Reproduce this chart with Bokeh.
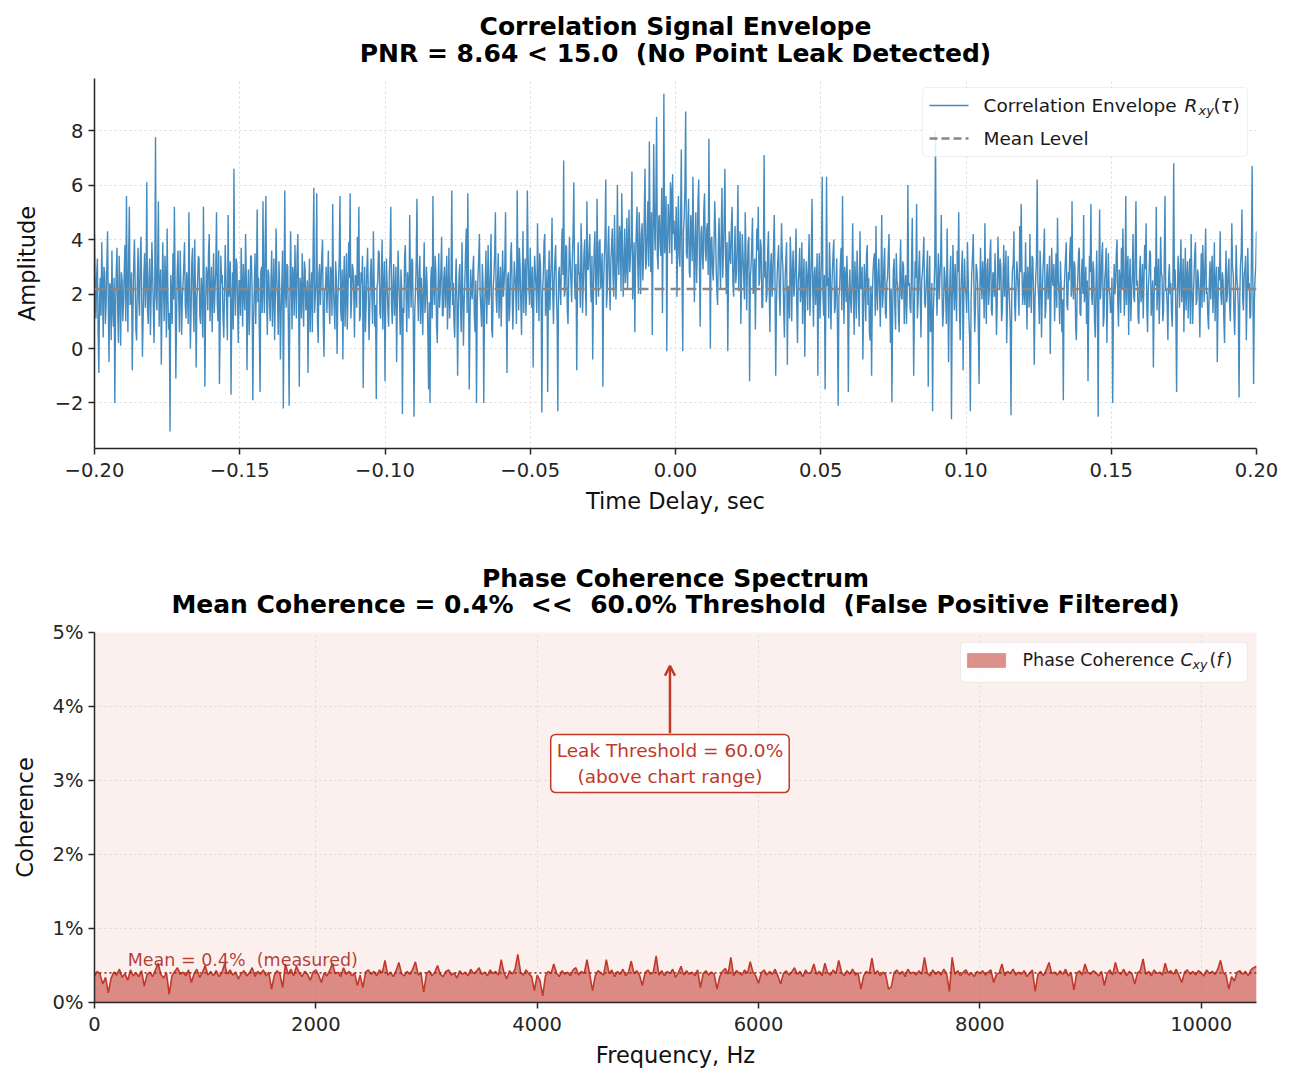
import numpy as np
from bokeh.plotting import figure
from bokeh.layouts import column
from bokeh.models import (Range1d, FixedTicker, CustomJSTickFormatter, Span, Label,
                          BoxAnnotation, Arrow, OpenHead)
from bokeh.embed import file_html
from bokeh.resources import INLINE

FONT = "DejaVu Sans"
NB = "\u00a0"  # keeps doubled spaces visible in the SVG text

# ---- correlation envelope R_xy(tau), sampled uniformly over +/-0.2 s ----
delay_limits = (-0.2, 0.2)
envelope = [
    4.2, 2.0, 1.1, 2.7, 3.3, 0.6, -0.9, 1.9, 2.6, 1.2, 3.9, 2.3, 0.4, 3.0, 2.8, 0.9, 1.6, 3.1, 4.3, 1.7, -0.5, 2.4, 2.2, 0.3, 3.6, 1.5, 0.8, 2.6, -2.0, 1.4, 2.9, 3.7, 1.3, 0.2, 3.4, 2.1, 0.1, 2.8, 2.5, 1.0,
    1.7, 2.9, 3.8, 1.0, 5.6, 2.2, 0.6, 3.4, 5.2, 1.6, 1.9, 2.8, -0.8, 1.3, 3.1, 4.0, 2.4, 0.7, 0.3, 2.5, 3.7, 1.8, 1.2, 3.3, 4.1, 2.0, -0.3, 1.1, 2.7, 3.5, 1.5, 2.3, 6.1, 1.4, 0.9, 2.6, 3.3, 0.5, 2.0, 3.9,
    2.8, 1.5, 0.2, 2.4, 7.75, 1.9, 1.4, 3.2, 5.4, 0.8, 2.3, 2.9, -0.6, 1.7, 3.9, 2.2, 1.0, 3.4, 2.6, 0.4, 4.4, 2.0, 0.7, 1.3, -3.05, 2.7, 2.1, 0.9, 3.5, 1.8, 5.2, 2.5, -1.1, 1.2, 2.9, 3.6, 1.8, 0.6, 3.6, 2.3,
    0.5, 1.9, 2.4, 3.1, 3.9, 1.6, 1.1, 2.8, 2.2, 0.9, 5.0, 2.5, 0.0, 1.4, 3.2, 3.7, 1.7, 0.6, 4.0, 2.1, -0.7, 1.8, 2.5, 3.4, 3.3, 1.2, 0.9, 2.6, 2.0, 0.4, 5.2, 2.3, -1.4, 1.5, 3.0, 2.7, 1.4, 3.5, 4.2, 1.0,
    1.9, 3.0, 0.6, 2.1, 3.5, 1.3, 2.2, 2.9, 5.0, 1.7, 1.0, 3.6, -1.3, 0.8, 3.4, 2.4, 2.7, 1.1, 0.4, 2.0, 3.8, 2.6, 1.5, 0.3, 4.9, 1.9, 2.3, 3.2, -1.7, 1.4, 2.8, 0.7, 6.6, 2.2, 1.2, 3.3, 3.1, 1.6, 0.2, 2.5,
    2.5, 1.2, 3.7, 2.3, 0.8, 3.1, 2.0, 1.4, 4.2, 2.7, -0.8, 1.9, 2.9, 0.5, 1.6, 3.4, 3.4, 2.1, -1.9, 1.0, 2.2, 3.5, 0.9, 2.4, 5.1, 1.7, 2.6, 0.6, -1.6, 2.8, 3.0, 1.3, 5.4, 2.2, 1.3, 3.8, 5.6, 1.8, 0.5, 2.9,
    2.7, 1.6, 1.0, 2.5, 3.6, 0.8, 2.1, 3.3, 0.3, 1.9, 4.4, 2.6, 1.8, 0.5, 3.2, 2.2, -0.4, 1.3, 2.4, 3.6, -2.2, 1.5, 5.8, 2.0, 1.5, 3.1, 3.0, 0.9, -2.1, 1.7, 4.3, 2.4, 0.7, 3.0, 2.6, 1.2, 3.8, 2.3, 1.1, 3.4,
    4.2, 1.8, -1.4, 2.6, 2.3, 1.1, 3.5, 2.0, 0.8, 3.2, 2.9, 1.4, 1.7, 2.5, -0.9, 1.9, 3.3, 0.6, 2.0, 2.8, 0.6, 3.6, 5.9, 1.3, 1.9, 2.4, 5.7, 1.0, 0.2, 2.7, 3.1, 1.6, 2.4, 3.4, 4.0, 0.9, -0.3, 2.1, 2.2, 3.0,
    1.3, 2.4, 3.6, 1.7, 0.9, 3.0, 2.7, 1.2, 5.3, 2.2, 1.5, 0.7, 3.2, 2.6, -0.2, 1.8, 2.5, 3.3, 5.6, 1.4, 1.0, 2.9, -0.4, 2.3, 3.4, 0.8, 2.1, 3.5, 0.7, 1.9, 3.9, 2.6, 5.7, 1.1, 1.8, 3.1, 2.9, 2.0, 0.4, 2.7,
    2.6, 1.5, 4.1, 2.3, 5.2, 1.0, 1.2, 2.8, 2.4, 3.4, -1.45, 1.7, 3.0, 0.6, 1.6, 2.9, 3.7, 2.1, 0.3, 1.4, 2.8, 3.3, 1.9, 0.9, 4.3, 2.5, 0.8, 1.6, -1.85, 2.2, 2.5, 3.6, 3.5, 1.3, 1.1, 2.7, 4.0, 0.7, 2.2, 3.2,
    -1.2, 1.9, 3.3, 2.2, 1.4, 0.8, 2.7, 3.5, 5.2, 1.6, 0.9, 2.4, 3.1, 1.2, 2.0, 3.0, -0.5, 1.7, 3.6, 2.5, 1.7, 0.5, 2.9, 2.1, -2.4, 1.5, 1.3, 3.4, 3.8, 2.0, 0.6, 2.8, 2.4, 1.1, 4.9, 2.6, 1.5, 3.3, 3.2, 0.7,
    -2.5, 1.4, 2.1, 3.2, 5.5, 2.0, 1.0, 2.7, 3.4, 0.9, 2.6, 1.8, 0.5, 2.4, 3.9, 1.3, 1.8, 3.0, 2.3, 0.6, -1.5, 1.7, -2.0, 2.5, 3.0, 1.1, 5.6, 2.2, 1.6, 3.4, 2.8, 0.8, 0.2, 2.1, 3.5, 1.5, 2.0, 2.9, 4.1, 1.2,
    1.2, 2.6, 3.0, 1.5, 2.2, 3.4, 0.7, 2.0, 3.7, 1.1, 1.9, 2.8, 5.8, 1.6, 2.4, 0.9, 0.4, 2.3, 3.3, 1.8, -1.0, 1.5, 2.7, 3.1, 1.4, 0.6, 3.9, 2.2, 0.1, 1.7, 2.5, 3.6, 4.4, 1.3, 5.7, 2.4, -1.5, 1.0, 2.9, 2.1,
    1.8, 2.9, 3.4, 1.2, 0.6, 2.5, -2.0, 1.7, 2.6, 3.3, 4.2, 2.0, 1.5, 0.8, 3.1, 2.4, -2.0, 1.4, 2.3, 3.6, 0.9, 2.1, 3.8, 1.6, 1.9, 2.8, 4.2, 0.7, 0.4, 2.2, 2.7, 3.5, 5.0, 1.9, 1.3, 2.6, 3.5, 1.1, 2.1, 3.0,
    0.8, 2.2, 3.6, 1.9, 2.4, 3.1, 5.0, 1.5, -0.9, 2.6, 2.8, 1.0, 1.6, 3.4, 3.9, 2.3, 0.7, 1.8, 3.2, 2.7, 2.1, 0.9, 5.8, 2.9, 1.4, 3.7, 3.0, 1.7, 0.5, 2.5, 4.3, 1.3, 2.6, 3.3, 1.2, 2.0, 5.8, 3.5, 2.3, 1.6,
    3.7, 2.4, 1.5, 3.0, -0.7, 1.9, 3.4, 2.8, 2.2, 1.3, 4.6, 2.6, 1.0, 3.5, 3.1, 1.7, -2.35, 2.1, 2.7, 3.9, 4.2, 1.2, 1.8, 2.9, -1.6, 2.3, 3.6, 1.4, 2.4, 3.2, 4.8, 2.0, 0.9, 2.5, 3.3, 3.8, 2.0, 1.1, -2.3, 2.7,
    3.0, 2.2, 1.6, 3.5, 4.4, 2.7, 6.9, 1.9, 2.1, 3.8, 3.7, 1.4, 0.9, 2.6, 4.1, 3.2, 2.5, 1.7, 3.3, 4.2, 6.1, 2.4, 1.8, 3.1, -0.8, 2.0, 3.9, 2.8, 2.7, 1.5, 4.6, 3.4, 1.3, 2.3, 3.5, 4.0, 2.2, 1.2, 5.4, 2.9,
    2.9, 3.6, 4.2, 2.3, 1.7, 3.4, -0.4, 2.0, 3.6, 4.3, 2.5, 1.6, 5.5, 3.0, 1.9, 3.9, 4.0, 2.2, 2.8, 3.5, -1.4, 2.4, 3.3, 4.1, 6.2, 1.5, 2.1, 3.7, 4.5, 2.6, 1.4, 3.2, 3.8, 4.4, 2.6, 1.9, 4.9, 3.1, 1.8, 2.7,
    6.0, 3.3, 2.7, 4.5, 4.1, 2.1, 5.7, 3.8, 1.9, 3.0, 4.4, 2.4, 3.0, 4.8, 2.2, 3.6, 5.1, 2.8, 3.4, 4.0, 6.5, 1.8, 2.6, 3.9, 0.6, 3.2, 4.3, 5.2, 3.1, 2.0, 5.0, 3.7, 2.0, 4.2, 4.6, 2.5, 3.3, 4.9, 6.6, 2.9,
    3.2, 4.4, 5.4, 3.0, 7.6, 4.1, 2.8, 5.0, 0.5, 3.9, 7.5, 4.6, 3.6, 5.5, 8.5, 3.4, 2.9, 4.8, 4.9, 3.7, 3.4, 5.9, 1.3, 4.3, 9.35, 3.5, 4.2, 5.6, -0.1, 3.8, 5.3, 4.5, 3.5, 6.1, 5.8, 3.1, 6.4, 4.2, 4.7, 3.6,
    3.9, 5.2, 1.9, 4.0, 5.6, 3.4, 3.0, 4.7, 7.3, 2.6, -0.1, 4.3, 4.8, 5.9, 8.7, 3.5, 3.3, 4.6, 5.5, 2.8, 2.6, 4.9, 4.4, 3.2, 6.3, 4.1, 1.7, 3.7, 5.0, 2.4, 3.6, 5.4, 6.2, 3.0, 0.8, 4.2, 4.5, 3.3, 2.9, 5.1,
    5.7, 3.6, 3.2, 4.4, 4.6, 2.7, 7.7, 3.9, 0.0, 4.0, 4.1, 2.9, 2.5, 3.7, 5.4, 4.5, 3.0, 2.1, 1.6, 3.8, 4.8, 3.1, 2.2, 4.3, 5.9, 2.6, 3.5, 4.7, 6.6, 3.3, 2.0, 3.9, -0.1, 2.8, 4.3, 3.4, 3.1, 4.6, 5.2, 2.4,
    1.9, 3.2, 4.5, 2.4, 2.8, 3.9, 6.0, 2.1, 3.6, 4.3, 0.9, 2.7, 4.2, 3.4, 2.5, 1.8, 5.0, 3.5, 1.4, 2.9, 3.9, 4.1, -1.2, 2.6, 3.0, 3.8, 4.8, 2.0, 2.2, 3.3, 0.7, 2.8, 4.4, 3.6, 5.2, 2.3, 2.6, 4.0, 3.7, 1.5,
    1.5, 3.0, 7.1, 2.6, 3.2, 1.7, 2.0, 3.6, 4.3, 2.2, 0.6, 3.1, 3.5, 1.9, 2.4, 3.8, 4.9, 2.5, -1.0, 1.6, 2.7, 3.3, 3.8, 2.0, 1.2, 2.9, 4.6, 3.4, 2.9, 1.4, 0.4, 2.6, 3.3, 3.9, -0.6, 2.3, 2.2, 1.1, 4.1, 3.2,
    1.0, 2.8, 3.6, 1.9, 2.3, 3.2, 4.4, 1.5, 0.2, 2.4, 2.9, 3.7, 1.7, 2.1, 3.9, 0.9, 2.5, 3.3, -0.3, 1.8, 3.2, 2.6, 1.4, 3.0, 4.2, 1.2, 2.0, 3.4, 5.5, 2.2, 0.8, 2.7, 3.0, 1.6, 2.4, 3.5, -1.0, 2.3, 3.5, 1.1,
    2.1, 3.4, 6.3, 2.0, 1.2, 2.7, -1.5, 1.6, 6.3, 2.3, 2.6, 1.1, 3.9, 2.9, 0.7, 2.0, 2.8, 3.5, 4.0, 1.3, 1.5, 2.4, 3.3, 0.8, -2.1, 1.9, 2.2, 3.1, 3.7, 1.4, 5.6, 2.5, 0.9, 3.0, 2.6, 1.7, 3.4, 2.2, -1.6, 1.8,
    2.9, 1.8, 1.3, 2.5, 4.6, 2.0, 0.5, 3.2, 2.4, 1.1, 3.6, 2.7, 1.7, 0.8, 4.3, 2.2, 2.2, 3.0, -0.4, 1.5, 3.1, 2.4, 1.0, 3.4, 3.8, 1.6, 2.6, 0.6, 0.3, 2.3, -1.0, 1.9, 2.8, 3.3, 3.5, 1.2, 4.5, 2.1, 1.4, 2.8,
    3.3, 2.1, 0.8, 2.6, 4.9, 1.5, 2.0, 3.1, 3.7, 1.3, 1.1, 2.4, 2.6, 3.5, 4.2, 1.8, 0.2, 2.2, -1.97, 1.4, 2.9, 3.3, 1.6, 0.7, 3.5, 2.5, 2.3, 1.2, 0.6, 2.8, 4.0, 1.9, 1.8, 3.2, 3.0, 0.9, 2.2, 2.7, 0.9, 2.0,
    6.0, 2.3, 2.4, 1.5, 1.3, 3.0, 4.8, 2.1, -1.0, 1.6, 3.2, 2.6, 5.3, 1.1, 1.7, 2.9, 3.6, 2.0, 0.4, 2.5, 2.8, 3.4, 4.1, 1.7, 1.5, 2.2, 2.9, 3.6, -1.4, 1.9, 3.4, 0.6, 0.7, 2.4, -2.3, 1.3, 2.1, 3.1, 8.0, 2.6,
    1.2, 2.5, 3.5, 1.8, 2.6, 3.2, 4.9, 2.0, 0.8, 1.4, 3.0, 2.7, 1.9, 0.9, 4.4, 2.3, -0.5, 1.7, 2.7, 3.4, -2.6, 1.6, 3.8, 2.4, 1.4, 3.1, 2.2, 1.0, 3.6, 2.8, 5.0, 1.5, 0.3, 2.1, 2.9, 3.6, -0.8, 1.9, 3.3, 2.2,
    2.0, 1.3, 3.9, 2.6, 1.1, 0.4, -2.3, 1.8, 2.8, 3.4, 4.2, 2.2, 0.6, 1.5, 3.1, 2.9, 2.4, 0.7, -1.3, 2.0, 3.7, 2.5, 1.8, 3.2, 2.5, 1.1, 4.6, 2.3, 0.9, 3.0, 3.3, 1.6, 2.1, 3.5, 4.0, 1.4, 1.2, 2.8, 2.7, 1.9,
    3.5, 2.2, 0.5, 1.7, 4.1, 2.9, 2.2, 3.3, 3.0, 1.0, 1.4, 2.5, 3.8, 1.9, 2.6, 3.6, 0.2, 1.5, 3.4, 2.3, 1.7, 0.8, -2.45, 2.0, 2.9, 3.1, 4.3, 1.6, 1.0, 2.4, 3.2, 2.7, 2.0, 1.2, 4.5, 2.8, 5.3, 3.0, 1.6, 2.1,
    2.8, 1.6, 3.9, 2.3, 0.7, 3.0, 2.4, 1.5, 4.2, 2.1, 1.3, 3.4, 3.3, 2.0, -0.6, 1.8, 2.6, 3.2, 6.2, 2.4, 1.9, 0.9, 3.6, 2.7, 0.4, 1.9, 2.9, 3.5, 4.4, 1.1, 1.5, 2.6, 3.1, 1.8, 2.2, 3.4, -0.2, 2.0, 3.7, 2.5,
    2.3, 3.1, 1.0, 2.2, 3.5, 1.5, 4.8, 2.6, 2.0, 0.9, 3.2, 2.4, 0.6, 1.8, -1.9, 2.1, 2.7, 3.3, 3.9, 1.6, 1.4, 2.8, 2.5, 3.6, 4.1, 1.9, 5.4, 2.3, 1.8, 3.2, 3.0, 0.8, 0.3, 2.0, 2.6, 3.5, 3.7, 1.3, 1.2, 2.7,
    3.3, 2.0, 4.9, 1.7, 2.1, 3.0, 0.9, 2.5, -1.2, 1.6, 3.4, 2.8, 5.3, 1.9, 1.6, 3.2, 2.8, 1.0, 0.4, 2.3, 3.6, 1.5, -2.5, 2.6, 5.1, 1.8, 2.3, 3.4, 3.9, 0.8, 1.1, 2.5, 2.9, 3.7, 0.2, 1.9, 3.5, 2.2, 2.0, 1.3,
    1.5, 2.6, -2.0, 1.4, 3.1, 2.0, 2.4, 3.5, 4.0, 1.7, 0.8, 2.9, 2.6, 1.3, 3.7, 2.2, 4.4, 3.0, 1.2, 2.1, 5.6, 1.6, 2.9, 3.4, 0.5, 2.4, 3.3, 1.0, 2.1, 2.7, 4.2, 1.9, 1.7, 3.6, 5.4, 2.3, 2.5, 1.1, 0.9, 2.8,
    3.4, 1.7, 2.0, 3.1, 1.1, 2.4, 3.8, 2.9, 4.6, 1.5, 0.6, 2.2, 2.7, 3.6, 3.5, 1.2, 1.9, 2.5, -0.7, 1.8, 3.0, 2.3, 5.2, 1.4, 2.3, 3.3, 0.9, 2.0, 4.1, 2.8, 2.6, 1.0, 1.4, 3.2, 5.6, 2.1, 2.2, 1.6, 0.3, 2.6,
    3.1, 2.0, 2.4, 1.3, 0.8, 2.7, 6.8, 2.2, 2.9, 1.1, -1.6, 1.9, 3.4, 2.6, 1.5, 3.0, 4.0, 1.7, 2.2, 3.3, 0.6, 2.1, 3.7, 1.4, 2.5, 3.2, 1.1, 2.4, 3.3, 0.9, 4.2, 2.3, 0.9, 1.8, 2.7, 3.5, 3.9, 1.6, 1.8, 2.9,
    2.6, 1.9, 0.4, 2.3, 3.5, 1.5, 3.8, 2.7, 1.7, 3.1, 4.4, 2.0, 2.1, 1.2, 0.7, 2.4, 3.2, 1.8, 2.8, 3.4, 1.3, 2.2, 3.9, 1.0, 2.4, 3.0, -0.5, 1.6, 3.0, 2.5, 4.3, 1.9, 1.6, 2.8, 2.5, 1.1, 0.2, 2.3, 3.6, 1.7,
    2.0, 2.9, 3.3, 1.6, 1.0, 2.4, 4.6, 3.0, 2.7, 1.2, 0.5, 2.1, 3.8, 2.6, 2.2, 1.5, -1.8, 2.0, 3.1, 3.5, 5.1, 1.8, 1.4, 2.7, 2.9, 3.4, 0.3, 1.9, 3.7, 2.2, 2.4, 1.1, 1.2, 3.2, 6.7, 2.5, -1.3, 1.7, 2.6, 3.0,
    4.3,
]
mean_level = 2.18
pnr = 8.64
pnr_limit = 15.0
delay_ticks = [-0.2, -0.15, -0.1, -0.05, 0.0, 0.05, 0.1, 0.15, 0.2]
amp_ticks = [-2, 0, 2, 4, 6, 8]

# ---- phase coherence C_xy(f) in percent, 25 Hz bins from 0 Hz ----
freq_step_hz = 25
coherence_pct = [
    0.36, 0.42, 0.38, 0.25, 0.34, 0.13, 0.33, 0.41, 0.37, 0.45, 0.34, 0.39, 0.30, 0.44, 0.36, 0.40, 0.35, 0.43, 0.22, 0.38,
    0.41, 0.35, 0.44, 0.53, 0.38, 0.33, 0.40, 0.11, 0.36, 0.42, 0.47, 0.38, 0.41, 0.36, 0.44, 0.27, 0.39, 0.45, 0.34, 0.40,
    0.50, 0.37, 0.42, 0.36, 0.43, 0.35, 0.40, 0.52, 0.38, 0.44, 0.37, 0.41, 0.32, 0.39, 0.43, 0.36, 0.40, 0.47, 0.35, 0.42,
    0.38, 0.44, 0.36, 0.41, 0.18, 0.37, 0.43, 0.39, 0.20, 0.52, 0.38, 0.45, 0.36, 0.49, 0.40, 0.35, 0.42, 0.38, 0.30, 0.41,
    0.44, 0.37, 0.27, 0.40, 0.36, 0.43, 0.53, 0.39, 0.41, 0.35, 0.47, 0.38, 0.42, 0.36, 0.40, 0.23, 0.37, 0.20, 0.41, 0.44,
    0.38, 0.42, 0.36, 0.44, 0.40, 0.57, 0.37, 0.41, 0.35, 0.43, 0.54, 0.39, 0.36, 0.42, 0.38, 0.45, 0.55, 0.37, 0.40, 0.14,
    0.39, 0.43, 0.36, 0.41, 0.50, 0.38, 0.35, 0.42, 0.44, 0.37, 0.40, 0.33, 0.43, 0.38, 0.41, 0.36, 0.45, 0.39, 0.42, 0.47,
    0.38, 0.41, 0.36, 0.44, 0.39, 0.42, 0.37, 0.58, 0.40, 0.32, 0.43, 0.38, 0.45, 0.65, 0.41, 0.37, 0.44, 0.39, 0.35, 0.16,
    0.37, 0.30, 0.09, 0.36, 0.42, 0.39, 0.52, 0.40, 0.35, 0.43, 0.38, 0.41, 0.36, 0.44, 0.47, 0.37, 0.42, 0.39, 0.58, 0.38,
    0.16, 0.36, 0.43, 0.40, 0.37, 0.58, 0.39, 0.44, 0.35, 0.42, 0.38, 0.45, 0.36, 0.41, 0.56, 0.39, 0.43, 0.37, 0.23, 0.40,
    0.44, 0.38, 0.41, 0.63, 0.37, 0.43, 0.36, 0.42, 0.39, 0.45, 0.34, 0.40, 0.49, 0.37, 0.43, 0.38, 0.41, 0.36, 0.44, 0.20,
    0.39, 0.43, 0.37, 0.41, 0.38, 0.18, 0.35, 0.42, 0.46, 0.38, 0.61, 0.36, 0.43, 0.40, 0.37, 0.44, 0.39, 0.55, 0.41, 0.36,
    0.26, 0.40, 0.44, 0.37, 0.42, 0.38, 0.45, 0.36, 0.25, 0.39, 0.43, 0.37, 0.41, 0.47, 0.38, 0.42, 0.35, 0.44, 0.39, 0.41,
    0.52, 0.38, 0.42, 0.36, 0.53, 0.40, 0.37, 0.44, 0.39, 0.57, 0.41, 0.36, 0.43, 0.38, 0.45, 0.37, 0.40, 0.18, 0.36, 0.42,
    0.39, 0.60, 0.38, 0.43, 0.36, 0.41, 0.37, 0.18, 0.21, 0.40, 0.44, 0.38, 0.42, 0.35, 0.45, 0.39, 0.41, 0.37, 0.43, 0.38,
    0.61, 0.40, 0.36, 0.44, 0.38, 0.42, 0.37, 0.45, 0.39, 0.15, 0.61, 0.38, 0.43, 0.36, 0.41, 0.44, 0.37, 0.40, 0.35, 0.42,
    0.39, 0.43, 0.37, 0.41, 0.44, 0.27, 0.38, 0.40, 0.52, 0.36, 0.42, 0.39, 0.45, 0.37, 0.41, 0.38, 0.43, 0.35, 0.40, 0.44,
    0.15, 0.38, 0.42, 0.36, 0.44, 0.54, 0.39, 0.41, 0.37, 0.43, 0.38, 0.45, 0.36, 0.40, 0.17, 0.39, 0.43, 0.37, 0.52, 0.41,
    0.38, 0.43, 0.40, 0.36, 0.42, 0.23, 0.39, 0.44, 0.37, 0.54, 0.41, 0.38, 0.45, 0.36, 0.42, 0.39, 0.25, 0.40, 0.43, 0.59,
    0.38, 0.42, 0.36, 0.44, 0.39, 0.41, 0.37, 0.53, 0.40, 0.43, 0.38, 0.45, 0.36, 0.27, 0.41, 0.44, 0.38, 0.42, 0.37, 0.43,
    0.40, 0.36, 0.44, 0.39, 0.42, 0.38, 0.45, 0.57, 0.40, 0.37, 0.18, 0.35, 0.29, 0.41, 0.43, 0.38, 0.42, 0.36, 0.44, 0.47,
    0.49,
]
mean_coherence_pct = 0.4
leak_threshold_pct = 60.0
freq_limits = (0, 10500)
coh_limits = (0, 5)
freq_ticks = [0, 2000, 4000, 6000, 8000, 10000]
coh_ticks = [0, 1, 2, 3, 4, 5]

BLUE = "#3a85bc"
RED = "#c0392b"
INK = "#262626"

# page geometry (pixels from the top-left of the page)
W = 1294
FL, FR = 94, 1256                 # left / right edge of both plot frames
F1_TOP, F1_BOT = 78, 448          # correlation frame
F2_TOP, F2_BOT = 632, 1002        # coherence frame
HEAD1_H, P1_H = 70, 475           # 0..70 heading, 70..545 plot
HEAD2_H, P2_H = 75, 463           # 545..620 heading, 620..1083 plot
amp_limits = (-3.67, 9.91)


def style(p, tick_fmt_x, tick_fmt_y):
    p.outline_line_color = None
    p.xaxis.formatter = tick_fmt_x
    p.yaxis.formatter = tick_fmt_y
    for ax in list(p.xaxis) + list(p.yaxis):
        ax.axis_line_color = INK
        ax.axis_line_width = 1.5
        ax.major_tick_line_color = INK
        ax.major_tick_line_width = 1.5
        ax.major_tick_out = 6
        ax.major_tick_in = 0
        ax.minor_tick_line_color = None
        ax.major_label_text_font = FONT
        ax.major_label_text_font_size = "19.5px"
        ax.major_label_text_color = INK
        ax.axis_label_text_font = FONT
        ax.axis_label_text_font_size = "22.5px"
        ax.axis_label_text_font_style = "normal"
        ax.axis_label_text_color = "#111111"
    for ax in p.xaxis:
        ax.major_label_standoff = 8
        ax.axis_label_standoff = 8
    for ax in p.yaxis:
        ax.major_label_standoff = 5
        ax.axis_label_standoff = 12
    p.grid.grid_line_color = "#d6d6d6"
    p.grid.grid_line_dash = "2 3"
    p.grid.grid_line_width = 1
    p.grid.grid_line_alpha = 0.9


def heading(height, lines):
    """A strip with the same side borders as the plots, holding centred bold title lines.
    y is measured in pixels from the strip's top."""
    h = figure(width=W, height=height, x_range=Range1d(0, 1), y_range=Range1d(height, 0),
               x_axis_type=None, y_axis_type=None, toolbar_location=None,
               output_backend="svg", min_border_left=FL, min_border_right=W - FR,
               min_border_top=0, min_border_bottom=0)
    h.outline_line_color = None
    for y, s in lines:
        h.add_layout(Label(x=0.5, y=y, text=s, text_font=FONT, text_font_size="25px",
                           text_font_style="bold", text_color="black", text_align="center",
                           text_baseline="middle"))
    return h


def text_piece(p, x, y, s, size="18px", style_="normal", color="#1a1a1a"):
    p.add_layout(Label(x=x, y=y, text=s, text_font=FONT, text_font_size=size,
                       text_font_style=style_, text_color=color, text_baseline="middle",
                       text_align="left"))


fmt_signed2 = CustomJSTickFormatter(code="return tick.toFixed(2).replace('-', '\u2212');")
fmt_signed0 = CustomJSTickFormatter(code="return tick.toFixed(0).replace('-', '\u2212');")
fmt_int = CustomJSTickFormatter(code="return tick.toFixed(0);")
fmt_pct = CustomJSTickFormatter(code="return tick.toFixed(0) + '%';")

# ================= correlation envelope =================
head1 = heading(HEAD1_H, [
    (26, "Correlation Signal Envelope"),
    (53, f"PNR = {pnr:.2f} < {pnr_limit:.1f}{NB} (No Point Leak Detected)"),
])

delay = np.linspace(delay_limits[0], delay_limits[1], len(envelope))

p1 = figure(width=W, height=P1_H, title=None, output_backend="svg", toolbar_location=None,
            x_range=Range1d(*delay_limits), y_range=Range1d(*amp_limits),
            min_border_left=FL, min_border_right=W - FR, min_border_top=F1_TOP - HEAD1_H,
            min_border_bottom=HEAD1_H + P1_H - F1_BOT,
            x_axis_label="Time Delay, sec", y_axis_label="Amplitude")
p1.background_fill_color = "white"
style(p1, fmt_signed2, fmt_signed0)
p1.xaxis.ticker = FixedTicker(ticks=delay_ticks)
p1.yaxis.ticker = FixedTicker(ticks=amp_ticks)

p1.line(delay, envelope, line_color=BLUE, line_width=1.4, line_alpha=0.95)
p1.add_layout(Span(location=mean_level, dimension="width", line_color="#888888",
                   line_width=2.5, line_dash="10 6"))


def at1(px, py):
    x = delay_limits[0] + (px - FL) / (FR - FL) * (delay_limits[1] - delay_limits[0])
    y = amp_limits[1] - (py - F1_TOP) / (F1_BOT - F1_TOP) * (amp_limits[1] - amp_limits[0])
    return x, y


# legend
lx0, ly0 = at1(922, 87)
lx1, ly1 = at1(1247, 156)
p1.add_layout(BoxAnnotation(left=lx0, right=lx1, top=ly0, bottom=ly1, fill_color="white",
                            fill_alpha=0.85, line_color="#cccccc", line_width=1.2,
                            border_radius=4))
sx0, sy0 = at1(929, 105)
sx1, _ = at1(968, 105)
p1.add_layout(Arrow(x_start=sx0, y_start=sy0, x_end=sx1, y_end=sy0, start=None, end=None,
                    line_color=BLUE, line_width=1.5, line_alpha=0.95))
_, my = at1(929, 138)
p1.add_layout(Arrow(x_start=sx0, y_start=my, x_end=sx1, y_end=my, start=None, end=None,
                    line_color="#888888", line_width=2.5, line_dash="8 4"))
text_piece(p1, *at1(983, 105), "Correlation Envelope", size="18.5px")
text_piece(p1, *at1(1184, 105), "R", size="18.5px", style_="italic")
text_piece(p1, *at1(1198, 110), "xy", size="13px", style_="italic")
text_piece(p1, *at1(1213, 105), "(", size="18.5px")
text_piece(p1, *at1(1220, 105), "\u03c4", size="18.5px", style_="italic")
text_piece(p1, *at1(1232, 105), ")", size="18.5px")
text_piece(p1, *at1(983, 138), "Mean Level", size="18.5px")

# ================= phase coherence spectrum =================
head2 = heading(HEAD2_H, [
    (33, "Phase Coherence Spectrum"),
    (59, f"Mean Coherence = {mean_coherence_pct:.1f}%{NB} <<{NB} {leak_threshold_pct:.1f}% "
         f"Threshold{NB} (False Positive Filtered)"),
])

freqs = np.arange(len(coherence_pct)) * freq_step_hz
p2_top = 545 + HEAD2_H

p2 = figure(width=W, height=P2_H, title=None, output_backend="svg", toolbar_location=None,
            x_range=Range1d(*freq_limits), y_range=Range1d(*coh_limits),
            min_border_left=FL, min_border_right=W - FR, min_border_top=F2_TOP - p2_top,
            min_border_bottom=p2_top + P2_H - F2_BOT,
            x_axis_label="Frequency, Hz", y_axis_label="Coherence")
p2.background_fill_color = "#fcf0ef"
style(p2, fmt_int, fmt_pct)
p2.xaxis.ticker = FixedTicker(ticks=freq_ticks)
p2.yaxis.ticker = FixedTicker(ticks=coh_ticks)

p2.varea(x=freqs, y1=0, y2=coherence_pct, fill_color=RED, fill_alpha=0.55)
p2.line(freqs, coherence_pct, line_color=RED, line_width=1.6)
p2.add_layout(Span(location=mean_coherence_pct, dimension="width", line_color="#8e2a20",
                   line_width=1.6, line_dash="2 3", line_alpha=0.9))
p2.add_layout(Label(x=300, y=mean_coherence_pct + 0.17,
                    text=f"Mean = {mean_coherence_pct:.1f}%{NB} (measured)",
                    text_font=FONT, text_font_size="17.5px", text_color="#b0352a", text_alpha=0.95,
                    text_baseline="alphabetic"))


def at2(px, py):
    x = freq_limits[0] + (px - FL) / (FR - FL) * (freq_limits[1] - freq_limits[0])
    y = coh_limits[1] - (py - F2_TOP) / (F2_BOT - F2_TOP) * (coh_limits[1] - coh_limits[0])
    return x, y


# threshold pointer
p2.add_layout(Arrow(x_start=5200, y_start=3.64, x_end=5200, y_end=4.55,
                    line_color=RED, line_width=2.5,
                    end=OpenHead(size=10, line_color=RED, line_width=2.5)))
p2.add_layout(Label(x=5200, y=3.23, text=f"Leak Threshold = {leak_threshold_pct:.1f}%\n(above chart range)",
                    text_font=FONT, text_font_size="18.5px", text_color=RED, text_align="center",
                    text_baseline="middle", background_fill_color="white",
                    background_fill_alpha=0.95, border_line_color=RED, border_line_width=1.5,
                    padding=6, border_radius=5))

# legend
bx0, by0 = at2(960, 642)
bx1, by1 = at2(1247, 682)
p2.add_layout(BoxAnnotation(left=bx0, right=bx1, top=by0, bottom=by1, fill_color="white",
                            fill_alpha=0.85, line_color="#cccccc", line_width=1.2,
                            border_radius=4))
wx0, wy0 = at2(967, 653)
wx1, wy1 = at2(1005, 667)
p2.add_layout(BoxAnnotation(left=wx0, right=wx1, top=wy0, bottom=wy1, fill_color=RED,
                            fill_alpha=0.55, line_color=RED, line_width=1.2))
cy = 659
text_piece(p2, *at2(1022, cy), "Phase Coherence", size="17.5px")
text_piece(p2, *at2(1180, cy), "C", size="17.5px", style_="italic")
text_piece(p2, *at2(1192, cy + 5), "xy", size="12.5px", style_="italic")
text_piece(p2, *at2(1209, cy), "(", size="17.5px")
text_piece(p2, *at2(1216, cy), "f", size="17.5px", style_="italic")
text_piece(p2, *at2(1225, cy), ")", size="17.5px")

layout = column(head1, p1, head2, p2, spacing=0)
open("out.html", "w").write(file_html(layout, INLINE))
